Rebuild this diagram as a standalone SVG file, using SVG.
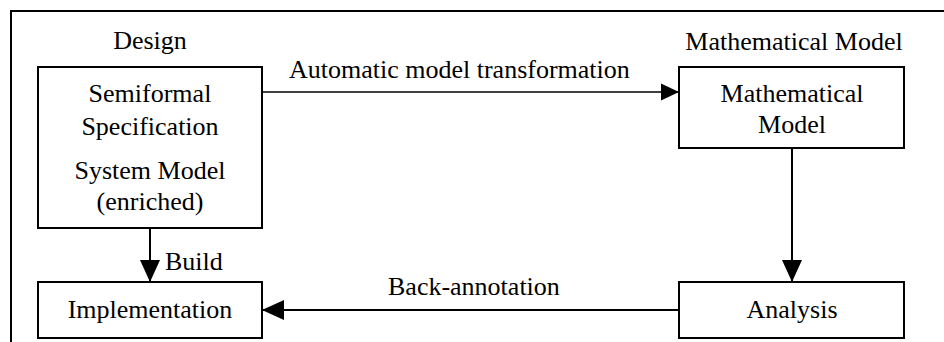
<svg xmlns="http://www.w3.org/2000/svg" width="944" height="342" viewBox="0 0 944 342" font-family="'Liberation Serif', 'DejaVu Serif', serif" font-size="26">
<defs>
<style>
text{font-family:'Liberation Serif','DejaVu Serif',serif;font-size:26px;fill:#000}
.box{fill:#fff;stroke:#000;stroke-width:2}
.c{text-anchor:middle}
.frame{stroke:#000;stroke-width:2;fill:none}
.edge{stroke:#000;stroke-width:1.3;fill:none}
.edge2{stroke:#000;stroke-width:2;fill:none}
</style>
<marker id="ah" markerUnits="userSpaceOnUse" markerWidth="22" markerHeight="22" viewBox="0 0 22 22" refX="22" refY="11" orient="auto">
<path d="M0,1 L22,11 L0,21 Z" fill="#000"/>
</marker>
<marker id="ahs" markerUnits="userSpaceOnUse" markerWidth="18" markerHeight="18" viewBox="0 0 18 18" refX="18" refY="9" orient="auto">
<path d="M0,0.5 L18,9 L0,17.5 Z" fill="#000"/>
</marker>
</defs>
<path class="frame" d="M11,342 L11,11 L944,11"/>
<text class="c" x="150" y="49">Design</text>
<text class="c" x="794" y="50">Mathematical Model</text>
<g id="design">
<rect class="box" x="38" y="67" width="224" height="161"/>
<text class="c" x="150" y="102">Semiformal</text>
<text class="c" x="150" y="135">Specification</text>
<text class="c" x="150" y="179">System Model</text>
<text class="c" x="150" y="210">(enriched)</text>
</g>
<g id="mathmodel">
<rect class="box" x="679" y="67" width="225" height="81"/>
<text class="c" x="792" y="102">Mathematical</text>
<text class="c" x="792" y="133">Model</text>
</g>
<g id="implementation">
<rect class="box" x="38" y="282" width="224" height="56"/>
<text class="c" x="150" y="318">Implementation</text>
</g>
<g id="analysis">
<rect class="box" x="679" y="282" width="225" height="56"/>
<text class="c" x="792" y="318">Analysis</text>
</g>
<g id="connectors">
<line class="edge" x1="262" y1="92" x2="679" y2="92" marker-end="url(#ahs)"/>
<text x="289" y="78">Automatic model transformation</text>
<line class="edge2" x1="792" y1="148" x2="792" y2="282" marker-end="url(#ah)"/>
<line class="edge2" x1="679" y1="310" x2="262" y2="310" marker-end="url(#ah)"/>
<text x="388" y="295">Back-annotation</text>
<line class="edge2" x1="150" y1="228" x2="150" y2="282" marker-end="url(#ah)"/>
<text x="165" y="270">Build</text>
</g>
</svg>
